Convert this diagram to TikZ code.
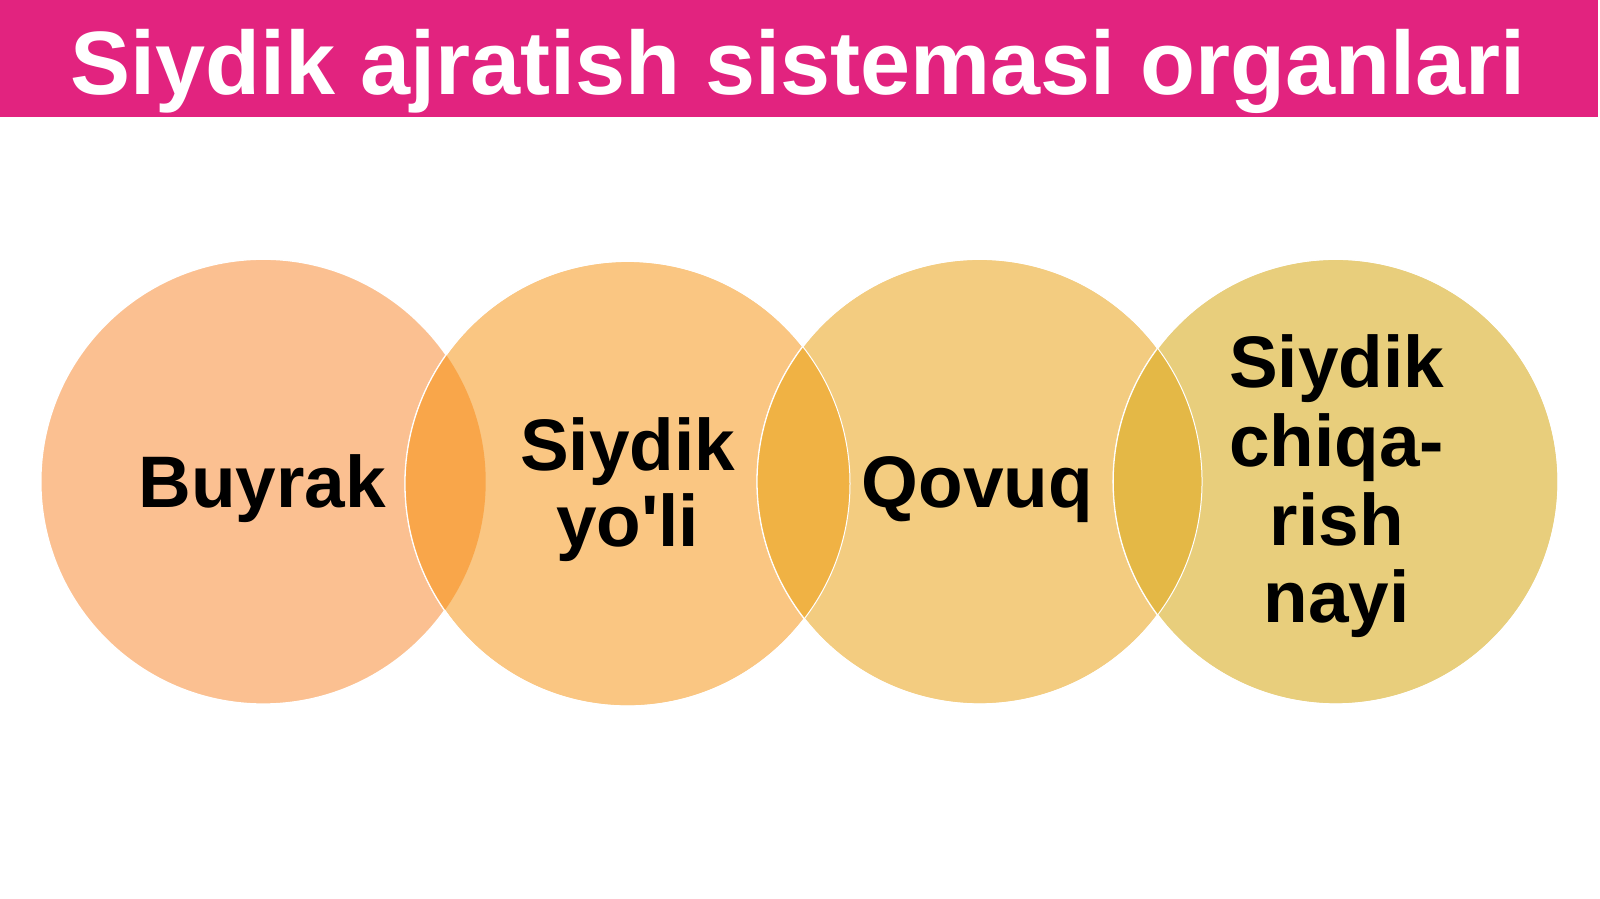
\documentclass[tikz,border=0pt]{standalone}
\usepackage{fontspec}
\setmainfont{Liberation Sans}[Ligatures=TeXOff]
\definecolor{hdr}{HTML}{E2237F}
\definecolor{cA}{HTML}{FBC091}
\definecolor{cB}{HTML}{FAC682}
\definecolor{cC}{HTML}{F3CC80}
\definecolor{cD}{HTML}{E8CE7C}
\definecolor{lA}{HTML}{F9A64A}
\definecolor{lB}{HTML}{F0B244}
\definecolor{lC}{HTML}{E4B846}
\tikzset{
  ring/.style={circle, minimum size=445pt, inner sep=0pt, draw=white, line width=1.5pt},
  lbl/.style={font=\bfseries\fontsize{73}{78}\selectfont, text=black, align=center, inner sep=0pt},
  edge/.style={white, line width=1pt},
}
\begin{document}
\begin{tikzpicture}[x=1.0204pt,y=1.0204pt]
\useasboundingbox (0,0) rectangle (1568,881);
\fill[white] (0,0) rectangle (1568,881);
\fill[hdr] (0,766) rectangle (1566,881);
\node[font=\bfseries\fontsize{90}{90}\selectfont, text=white, inner sep=0pt, anchor=base] (title) at (782,788) {Siydik ajratish sistemasi organlari};
% circles
\node[ring, fill=cA] (c1) at (258,409) {};
\node[ring, fill=cB] (c2) at (615,407) {};
\node[ring, fill=cC] (c3) at (960,409) {};
\node[ring, fill=cD] (c4) at (1309,409) {};
% lenses
\begin{scope}
  \clip (c1.center) circle (218);
  \fill[lA] (c2.center) circle (218);
\end{scope}
\begin{scope}
  \clip (c2.center) circle (218);
  \fill[lB] (c3.center) circle (218);
\end{scope}
\begin{scope}
  \clip (c3.center) circle (218);
  \fill[lC] (c4.center) circle (218);
\end{scope}
\draw[edge] (c2.center) circle (218);
\draw[edge] (c3.center) circle (218);
\draw[edge] (c4.center) circle (218);
% labels
\node[lbl, anchor=base] (t1) at (257,384) {Buyrak};
\node[lbl, anchor=base] (t2a) at (615,420) {Siydik};
\node[lbl, anchor=base] (t2b) at (615,345) {yo'li};
\node[lbl, anchor=base] (t3) at (958,384) {Qovuq};
\node[lbl, anchor=base] (t4a) at (1310,501) {Siydik};
\node[lbl, anchor=base] (t4b) at (1310,424) {chiqa-};
\node[lbl, anchor=base] (t4c) at (1310,346) {rish};
\node[lbl, anchor=base] (t4d) at (1310,271) {nayi};
\end{tikzpicture}
\end{document}
